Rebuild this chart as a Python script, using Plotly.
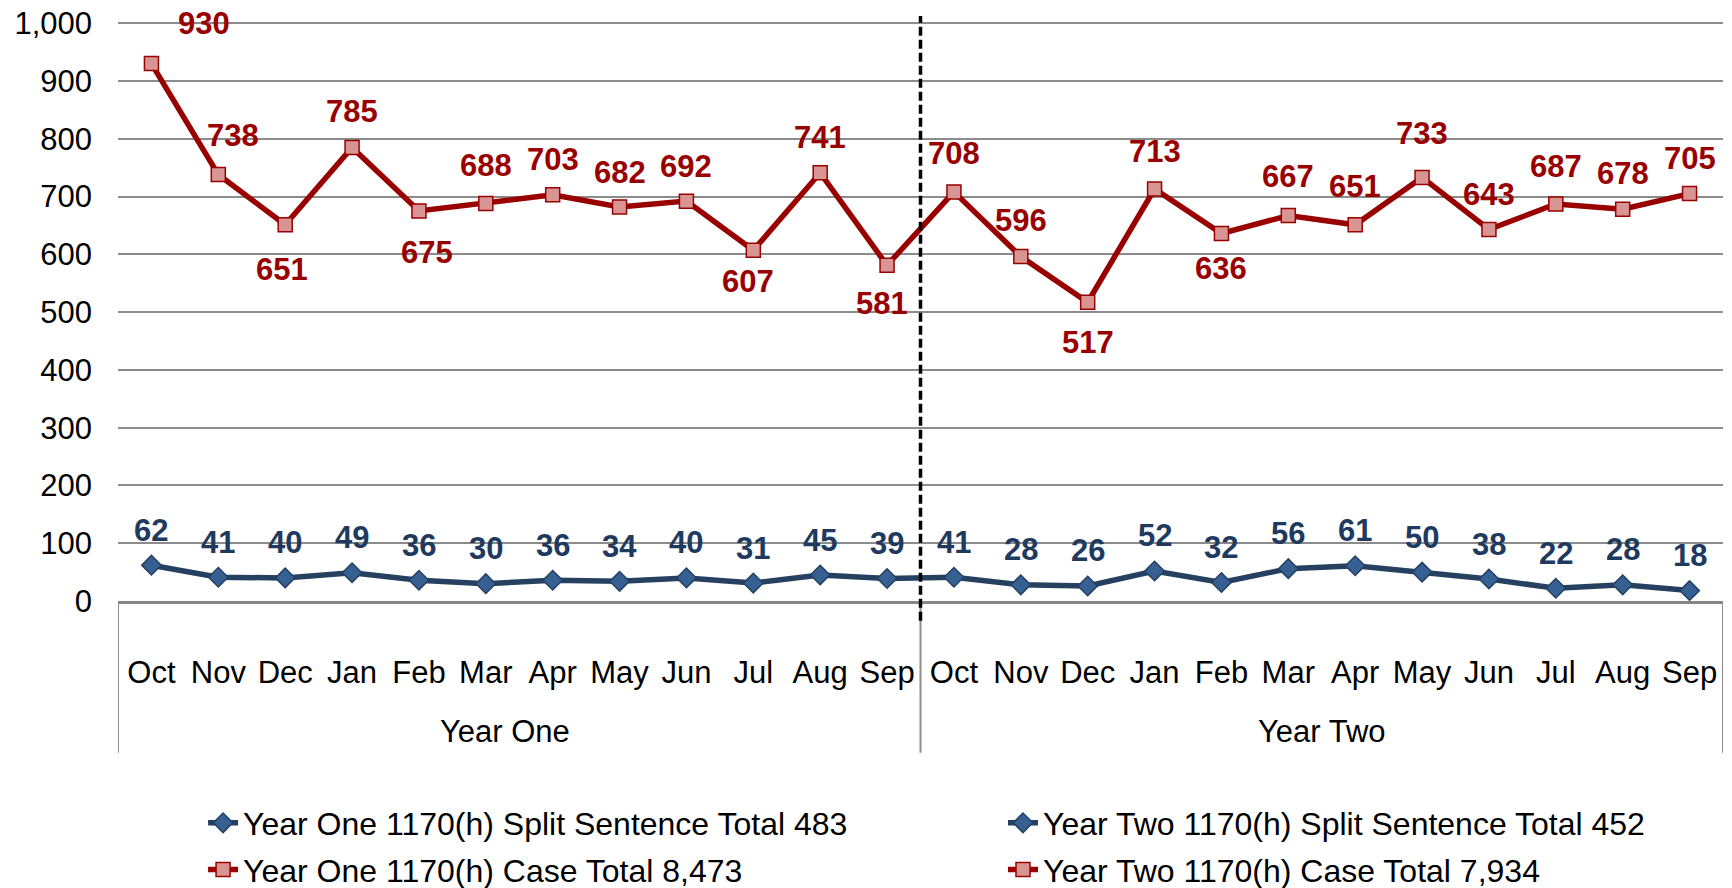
import numpy as np
import plotly.graph_objects as go

months = ["Oct", "Nov", "Dec", "Jan", "Feb", "Mar", "Apr", "May", "Jun", "Jul", "Aug", "Sep"]
years = ["Year One", "Year Two"]
y1_case = [930, 738, 651, 785, 675, 688, 703, 682, 692, 607, 741, 581]
y2_case = [708, 596, 517, 713, 636, 667, 651, 733, 643, 687, 678, 705]
y1_split = [62, 41, 40, 49, 36, 30, 36, 34, 40, 31, 45, 39]
y2_split = [41, 28, 26, 52, 32, 56, 61, 50, 38, 22, 28, 18]
names = {
    "y1_split": "Year One 1170(h) Split Sentence Total 483",
    "y2_split": "Year Two 1170(h) Split Sentence Total 452",
    "y1_case": "Year One 1170(h) Case Total 8,473",
    "y2_case": "Year Two 1170(h) Case Total 7,934",
}
y_ticks = [0, 100, 200, 300, 400, 500, 600, 700, 800, 900, 1000]

# label offsets (pixels) for case labels: (dx, dy) dy>0 above
case_off = [(53, 40), (15, 39), (-3, -45), (0, 36), (8, -42), (0, 38), (0, 35), (0, 34), (0, 35), (-5, -31), (0, 35), (-5, -38),
            (0, 38), (0, 36), (0, -40), (0, 38), (0, -35), (0, 39), (0, 38), (0, 44), (0, 35), (0, 38), (0, 36), (0, 35)]
split_dy = 35

RED = "#990000"
RED_FILL = "#d99594"
BLUE = "#254061"
BLUE_FILL = "#366092"
LBL_BLUE = "#1f3a5f"
GRID = "#8c8c8c"
FONT = "Liberation Sans, Arial, sans-serif"
FS = 31
N = len(months)
x1 = np.arange(N)
x2 = np.arange(N, 2 * N)
all_months = months + months

fig = go.Figure()

def add_series(x, y, name, color, fill, symbol, size, legend):
    fig.add_trace(go.Scatter(
        x=x, y=y, name=name, mode="lines+markers", legend=legend, legendgroup=name,
        line=dict(color=color, width=5.5),
        marker=dict(symbol=symbol, size=size, color=fill, line=dict(color=color, width=1.5)),
        hoverinfo="x+y",
    ))

# connectors across the year boundary
fig.add_trace(go.Scatter(x=[x1[-1], x2[0]], y=[y1_split[-1], y2_split[0]], mode="lines",
                         line=dict(color=BLUE, width=5.5), showlegend=False, hoverinfo="skip"))
fig.add_trace(go.Scatter(x=[x1[-1], x2[0]], y=[y1_case[-1], y2_case[0]], mode="lines",
                         line=dict(color=RED, width=5.5), showlegend=False, hoverinfo="skip"))

add_series(x1, y1_split, names["y1_split"], BLUE, BLUE_FILL, "diamond", 15, "legend")
add_series(x1, y1_case, names["y1_case"], RED, RED_FILL, "square", 14, "legend")
add_series(x2, y2_split, names["y2_split"], BLUE, BLUE_FILL, "diamond", 15, "legend2")
add_series(x2, y2_case, names["y2_case"], RED, RED_FILL, "square", 14, "legend2")

anns = []
case_all = y1_case + y2_case
split_all = y1_split + y2_split
xs = list(x1) + list(x2)
for i, (xv, v) in enumerate(zip(xs, case_all)):
    dx, dy = case_off[i]
    anns.append(dict(x=xv, y=v, text=f"{v}", showarrow=False, xshift=dx, yshift=dy,
                     font=dict(family=FONT, size=FS, color=RED, weight="bold"),
                     xanchor="center", yanchor="middle"))
for xv, v in zip(xs, split_all):
    anns.append(dict(x=xv, y=v, text=f"{v}", showarrow=False, yshift=split_dy,
                     font=dict(family=FONT, size=FS, color=LBL_BLUE, weight="bold"),
                     xanchor="center", yanchor="middle"))
# year group labels
for k, yr in enumerate(years):
    anns.append(dict(x=k * N + (N - 1) / 2, y=-0.226, yref="paper", text=yr, showarrow=False,
                     xshift=(-14 if k == 0 else 0),
                     font=dict(family=FONT, size=FS, color="black"), xanchor="center", yanchor="middle"))

shapes = []
# vertical divider lines in the category axis area
for xv in [-0.5, N - 0.5, 2 * N - 0.5]:
    shapes.append(dict(type="line", xref="x", yref="paper", x0=xv, x1=xv, y0=0, y1=-0.262,
                       line=dict(color=GRID, width=2)))
# dashed year separator
shapes.append(dict(type="line", xref="x", yref="paper", x0=N - 0.5, x1=N - 0.5, y0=-0.034, y1=1.0104,
                   line=dict(color="black", width=3.5, dash="9px,4px")))

LEG_FONT = dict(family=FONT, size=32, color="black")
fig.update_layout(
    width=1732, height=888,
    margin=dict(l=118, r=9, t=22, b=287, autoexpand=False),
    paper_bgcolor="white", plot_bgcolor="white",
    font=dict(family=FONT, size=FS, color="black"),
    showlegend=True,
    legend=dict(x=0.053, y=-0.336, xanchor="left", yanchor="top", orientation="v",
                font=LEG_FONT, tracegroupgap=2, bgcolor="rgba(0,0,0,0)"),
    legend2=dict(x=0.5514, y=-0.336, xanchor="left", yanchor="top", orientation="v",
                 font=LEG_FONT, tracegroupgap=2, bgcolor="rgba(0,0,0,0)"),
    annotations=anns,
    shapes=shapes,
    xaxis=dict(range=[-0.5, 2 * N - 0.5], tickmode="array", tickvals=xs, ticktext=all_months,
               showgrid=False, zeroline=False, showline=True, linecolor="#868686", linewidth=2.5,
               ticks="", ticklabelstandoff=42, automargin=False, ticklabeloverflow="allow",
               tickfont=dict(family=FONT, size=FS, color="black")),
    yaxis=dict(range=[0, 1002], tickmode="array", tickvals=y_ticks,
               ticktext=[f"{t:,}" for t in y_ticks], showgrid=True, gridcolor=GRID, gridwidth=2,
               zeroline=False, showline=False, ticks="", ticklabelstandoff=25, automargin=False,
               ticklabeloverflow="allow",
               tickfont=dict(family=FONT, size=FS, color="black")),
)

fig.write_html("out.html", config={"displayModeBar": False},
               post_script="document.body.style.margin='0';")
